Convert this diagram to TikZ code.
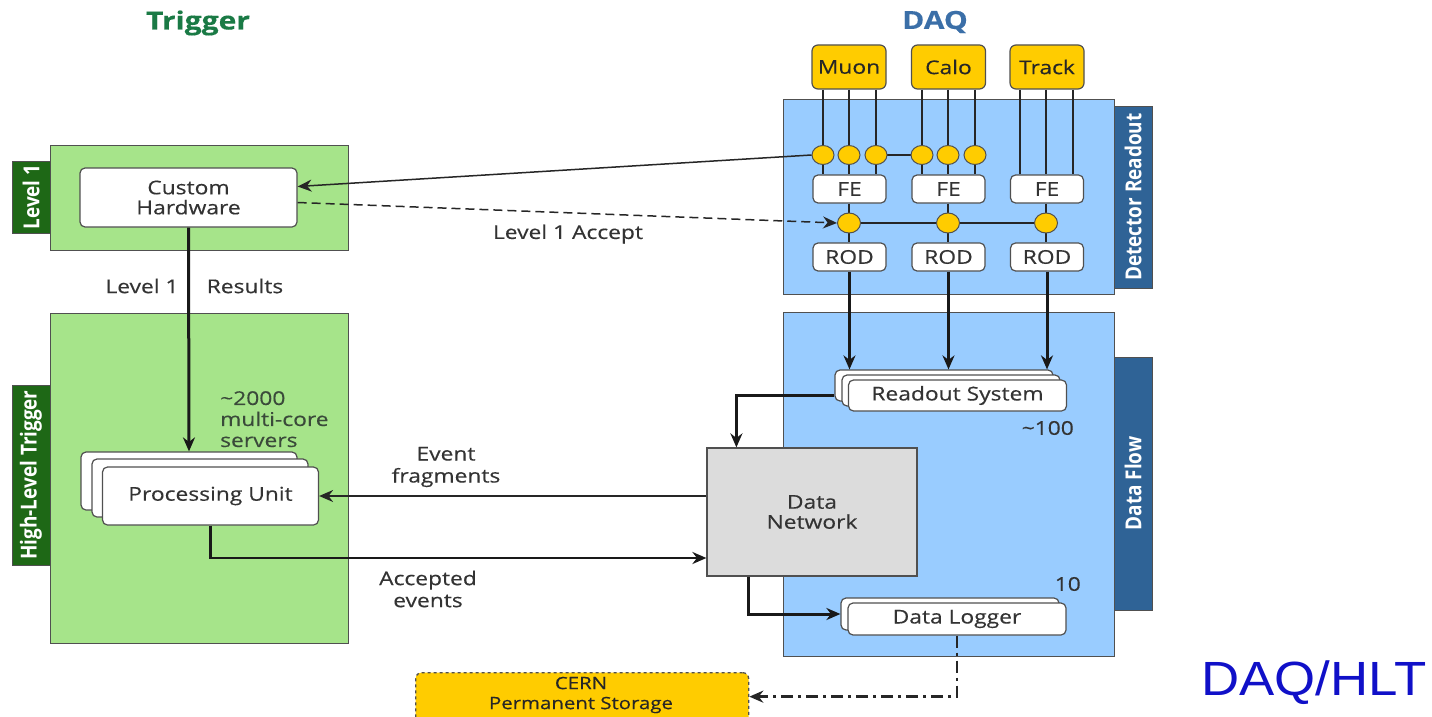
\documentclass[tikz,border=0pt]{standalone}
\usepackage{fontspec}
\setmainfont{Open Sans}[FakeStretch=1.2, FakeBold=0.35]
\newfontfamily\tabfont{Open Sans}[FakeStretch=0.86]
\newfontfamily\arialf{Liberation Sans}[FakeStretch=1.1]
\usetikzlibrary{arrows.meta,calc,shapes.geometric}
\definecolor{greenF}{RGB}{166,228,138}
\definecolor{greenT}{RGB}{30,104,22}
\definecolor{blueF}{RGB}{153,204,255}
\definecolor{blueT}{RGB}{47,99,150}
\definecolor{yel}{RGB}{255,204,0}
\definecolor{netF}{RGB}{220,220,220}
\definecolor{txt}{RGB}{51,51,51}
\definecolor{trigC}{RGB}{26,122,69}
\definecolor{daqC}{RGB}{59,111,168}
\definecolor{srvC}{RGB}{58,74,58}
\definecolor{hltC}{RGB}{16,16,200}
\definecolor{bord}{RGB}{80,80,80}
\begin{document}
\begin{tikzpicture}[x=1pt,y=-1pt,
  font=\fontsize{19}{22}\selectfont, text=txt,
  panelG/.style={draw=bord, line width=1.3pt, fill=greenF, anchor=north west},
  panelB/.style={draw=bord, line width=1.3pt, fill=blueF, anchor=north west},
  tabG/.style={fill=greenT, draw=bord, line width=0.8pt, text=white, rotate=90, inner sep=0pt,
     font=\tabfont\bfseries\fontsize{22}{22}\selectfont},
  tabB/.style={fill=blueT, draw=bord, line width=0.8pt, text=white, rotate=90, inner sep=0pt,
     font=\tabfont\bfseries\fontsize{22}{22}\selectfont},
  wbox/.style={draw=bord, line width=1.2pt, fill=white, rounded corners=5pt, inner sep=0pt, align=center},
  det/.style={draw=bord, line width=1.2pt, fill=yel, rounded corners=6pt, inner sep=0pt,
     minimum width=74, minimum height=44, text=black!85},
  dot/.style={ellipse, draw=bord, line width=1pt, fill=yel, minimum width=22, minimum height=19, inner sep=0pt},
  thin/.style={line width=1.5pt, draw=black!85},
  thick/.style={line width=3pt, draw=black!90},
  tip/.style={-{Stealth[length=14pt,width=12pt]}},
  lbl/.style={align=center, inner sep=0pt}
]
\useasboundingbox (0,0) rectangle (1432,717);

% titles
\node[font=\bfseries\fontsize{25}{25}\selectfont, text=trigC] (ttrig) at (198,23) {Trigger};
\node[font=\bfseries\fontsize{25}{25}\selectfont, text=daqC] (tdaq) at (935,22) {DAQ};

% trigger panels
\node[panelG, minimum width=298, minimum height=105] (l1p) at (50,145) {};
\node[tabG, minimum width=72, minimum height=38] (l1tab) at (31,197) {Level 1};
\node[panelG, minimum width=298, minimum height=330] (hltp) at (50,313) {};
\node[tabG, minimum width=180, minimum height=38] (hlttab) at (31,475) {High-Level Trigger};

\node[wbox, minimum width=217, minimum height=59] (ch) at (188.5,197.5) {Custom\\[-2pt]Hardware};

% processing unit stack
\node[wbox, minimum width=216, minimum height=58] (pu3) at (189,481) {};
\node[wbox, minimum width=216, minimum height=58] (pu2) at (200,488) {};
\node[wbox, minimum width=216, minimum height=58] (pu) at (210.5,496) {Processing Unit};
\node[lbl, align=left, anchor=north west, text=srvC, font=\fontsize{19}{21}\selectfont] (srv) at (220,391) {\textasciitilde2000\\multi-core\\servers};

% DAQ panels
\node[panelB, minimum width=331, minimum height=195] (drp) at (783,99) {};
\node[tabB, minimum width=182, minimum height=38] (drtab) at (1133,197) {Detector Readout};
\node[panelB, minimum width=331, minimum height=344] (dfp) at (783,312) {};
\node[tabB, minimum width=253, minimum height=38] (dftab) at (1133,483.5) {Data Flow};

% detectors
\node[det] (muon) at (849,67) {Muon};
\node[det] (calo) at (948.5,67) {Calo};
\node[det] (track) at (1047,67) {Track};

% FE and ROD
\node[wbox, minimum width=73, minimum height=28] (fe1) at (849.5,189) {FE};
\node[wbox, minimum width=73, minimum height=28] (fe2) at (948.5,189) {FE};
\node[wbox, minimum width=73, minimum height=28] (fe3) at (1047,189) {FE};
\node[wbox, minimum width=73, minimum height=28] (rod1) at (849.5,257) {ROD};
\node[wbox, minimum width=73, minimum height=28] (rod2) at (948.5,257) {ROD};
\node[wbox, minimum width=73, minimum height=28] (rod3) at (1047,257) {ROD};

% dot coordinates
\coordinate (m1) at (823,155); \coordinate (m2) at (849,155); \coordinate (m3) at (876,155);
\coordinate (c1) at (922,155); \coordinate (c2) at (948,155); \coordinate (c3) at (975,155);
\coordinate (t1) at (1020,155); \coordinate (t2) at (1046,155); \coordinate (t3) at (1073,155);
\coordinate (r1) at (849,223); \coordinate (r2) at (948,223); \coordinate (r3) at (1046,223);

\foreach \c/\d/\f in {m1/muon/fe1,m2/muon/fe1,m3/muon/fe1,c1/calo/fe2,c2/calo/fe2,c3/calo/fe2,t1/track/fe3,t2/track/fe3,t3/track/fe3}
  \draw[thin] (\c |- \d.south) -- (\c |- \f.north);
\draw[thin] (m3) -- (c1);
\foreach \c/\f/\r in {r1/fe1/rod1,r2/fe2/rod2,r3/fe3/rod3}
  \draw[thin] (\c |- \f.south) -- (\c |- \r.north);
\draw[thin] (r1) -- (r3);

\foreach \c in {m1,m2,m3,c1,c2,c3}
  \node[dot] (d\c) at (\c) {};
\foreach \c in {r1,r2,r3}
  \node[dot, minimum width=23, minimum height=20] (d\c) at (\c) {};

% readout system stack
\node[wbox, minimum width=218, minimum height=31] (rs3) at (944,385.5) {};
\node[wbox, minimum width=218, minimum height=31] (rs2) at (951,390.5) {};
\node[wbox, minimum width=218, minimum height=31] (rs) at (957.5,395.5) {Readout System};
\node[lbl, anchor=east] (n100) at (1074,428) {\textasciitilde100};

% data network
\node[draw=bord, line width=1.2pt, fill=netF, minimum width=210, minimum height=128, align=center] (dn) at (812,512) {Data\\[-2pt]Network};

% data logger stack
\node[wbox, minimum width=218, minimum height=32] (dl2) at (950,614) {};
\node[wbox, minimum width=218, minimum height=32] (dl) at (957,619) {Data Logger};
\node[lbl, anchor=east] (n10) at (1081,584) {10};

% CERN storage
\begin{scope}
\clip (0,0) rectangle (1432,717);
\node[draw=bord, dashed, line width=1.3pt, fill=yel, rounded corners=6pt, minimum width=333, minimum height=52, anchor=north west, inner sep=0pt] (cern) at (415,672) {};
\end{scope}
\node[lbl, text=black!85, font=\fontsize{17}{20}\selectfont] (cernt) at (581,695) {CERN\\Permanent Storage};

% connectors
\draw[thin, tip] (dm1.west) -- ([yshift=11pt]ch.east);
\draw[thin, dashed, dash pattern=on 9pt off 5pt, tip] ([yshift=-5pt]ch.east) -- (dr1.west);
\node[lbl] (l1acc) at (568,234) {Level 1 Accept};

\draw[thick, tip] (ch.south) -- (pu3.north);
\node[lbl] (l1res1) at (142,286) {Level 1};
\node[lbl] (l1res2) at (245,286) {Results};

\foreach \r in {rod1,rod2,rod3}
  \draw[thick, tip] (\r.south) -- (\r.south |- rs3.north);

\draw[thick, tip] (rs.west -| rs3.west) -| ([xshift=30pt]dn.north west);

\draw[thin, line width=1.8pt, tip] (dn.west |- pu.east) -- (pu.east);
\node[lbl] (evf) at (446,467) {Event\\fragments};

\draw[line width=2.4pt, draw=black!90, tip] (pu.south) |- ([yshift=-46pt]dn.west);
\node[lbl] (acc) at (428,589) {Accepted\\events};

\draw[thick, tip] ([xshift=42pt]dn.south west) |- (dl2.west);

\draw[line width=2.6pt, draw=black!85, dash pattern=on 12pt off 5pt on 3pt off 5pt, tip] (dl.south) |- ([yshift=2pt]cern.east);

\node[font=\arialf\fontsize{48}{48}\selectfont, text=hltC, inner sep=0pt] (daqhlt) at (1314,683) {DAQ/HLT};
\end{tikzpicture}
\end{document}
